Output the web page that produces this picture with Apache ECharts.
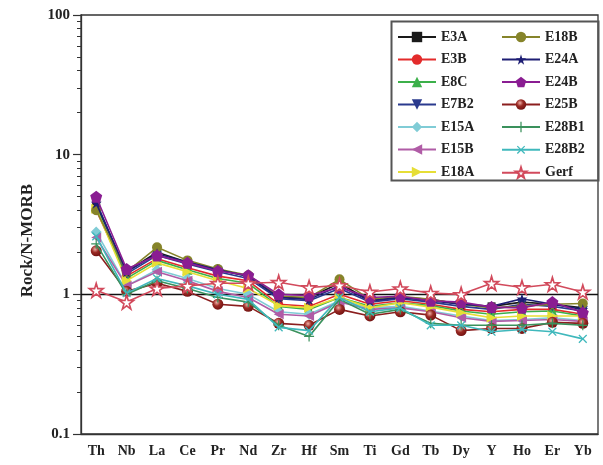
<!DOCTYPE html>
<html>
<head>
<meta charset="utf-8">
<script src="https://cdn.jsdelivr.net/npm/echarts@6/dist/echarts.min.js"></script>
<style>html,body{margin:0;padding:0;background:#fff}#c{width:603px;height:465px}</style>
</head>
<body>
<div id="c"></div>
<script>
const categories = ['Th','Nb','La','Ce','Pr','Nd','Zr','Hf','Sm','Ti','Gd','Tb','Dy','Y','Ho','Er','Yb'];
const yTicks = [0.1, 1, 10, 100];
const minorTicks = [0.2,0.3,0.4,0.5,0.6,0.7,0.8,0.9,2,3,4,5,6,7,8,9,20,30,40,50,60,70,80,90];

const E3A  = [4.4, 1.45, 2.0, 1.7, 1.5, 1.35, 0.95, 0.95, 1.2, 0.9, 0.95, 0.92, 0.85, 0.82, 0.88, 0.85, 0.8];
const E3B  = [4.0, 1.35, 1.8, 1.55, 1.35, 1.25, 0.85, 0.82, 1.0, 0.85, 0.9, 0.85, 0.78, 0.75, 0.78, 0.78, 0.72];
const E8C  = [4.2, 1.3, 1.75, 1.5, 1.3, 1.2, 0.82, 0.78, 0.95, 0.82, 0.87, 0.83, 0.76, 0.72, 0.75, 0.76, 0.7];
const E7B2 = [4.6, 1.4, 1.9, 1.65, 1.45, 1.3, 0.93, 0.9, 1.1, 0.88, 0.93, 0.88, 0.82, 0.78, 0.85, 0.82, 0.76];
const E15A = [2.8, 1.15, 1.5, 1.3, 1.1, 1.0, 0.75, 0.72, 0.9, 0.8, 0.82, 0.76, 0.7, 0.65, 0.66, 0.68, 0.65];
const E15B = [2.55, 1.15, 1.45, 1.25, 1.05, 0.95, 0.72, 0.7, 0.88, 0.78, 0.8, 0.75, 0.68, 0.64, 0.65, 0.66, 0.64];
const E18A = [4.1, 1.25, 1.68, 1.45, 1.25, 1.1, 0.83, 0.8, 0.95, 0.8, 0.87, 0.81, 0.74, 0.68, 0.7, 0.7, 0.7];
const E18B = [4.0, 1.45, 2.17, 1.75, 1.52, 1.37, 0.97, 0.95, 1.28, 0.92, 0.97, 0.92, 0.85, 0.8, 0.82, 0.85, 0.86];
const E24A = [4.5, 1.45, 1.95, 1.7, 1.5, 1.35, 0.95, 0.92, 1.15, 0.9, 0.95, 0.9, 0.85, 0.82, 0.93, 0.85, 0.78];
const E24B = [5.0, 1.52, 1.9, 1.68, 1.47, 1.37, 1.0, 0.98, 1.12, 0.95, 0.97, 0.9, 0.88, 0.81, 0.8, 0.88, 0.74];
const E25B = [2.05, 1.05, 1.2, 1.05, 0.85, 0.82, 0.62, 0.6, 0.78, 0.7, 0.75, 0.71, 0.55, 0.57, 0.57, 0.63, 0.62];
const E28B1 = [2.3, 1.0, 1.25, 1.1, 0.95, 0.88, 0.6, 0.5, 0.92, 0.72, 0.78, 0.62, 0.6, 0.6, 0.6, 0.62, 0.6];
const E28B2 = [2.6, 1.02, 1.3, 1.15, 1.0, 0.92, 0.58, 0.55, 0.95, 0.75, 0.8, 0.6, 0.6, 0.54, 0.56, 0.54, 0.48];
const Gerf = [1.07, 0.88, 1.1, 1.15, 1.2, 1.2, 1.22, 1.12, 1.16, 1.04, 1.1, 1.02, 1.0, 1.2, 1.12, 1.18, 1.04];

const STAR = 'path://M50,0 L61,35 L98,35 L68,57 L79,91 L50,70 L21,91 L32,57 L2,35 L39,35 Z';
const PENT = 'path://M50,0 L98,36 L80,95 L20,95 L2,36 Z';
const PLUS = 'path://M44,0 H56 V44 H100 V56 H56 V100 H44 V56 H0 V44 H44 Z';

const defs = [
  {name:'E3A', data:E3A, color:'#1a1a1a', symbol:'rect', size:8},
  {name:'E3B', data:E3B, color:'#e32b2b', symbol:'circle', size:9},
  {name:'E8C', data:E8C, color:'#3cb04a', symbol:'triangle', size:10},
  {name:'E7B2', data:E7B2, color:'#2a3a8e', symbol:'triangle', size:10, rotate:180},
  {name:'E15A', data:E15A, color:'#80ccd6', symbol:'diamond', size:11},
  {name:'E15B', data:E15B, color:'#b05ca6', symbol:'triangle', size:10, rotate:90},
  {name:'E18A', data:E18A, color:'#e6de36', symbol:'triangle', size:10, rotate:-90},
  {name:'E18B', data:E18B, color:'#86842a', symbol:'circle', size:10},
  {name:'E24A', data:E24A, color:'#1e1e74', symbol:STAR, size:11},
  {name:'E24B', data:E24B, color:'#8a1d92', symbol:PENT, size:12},
  {name:'E25B', data:E25B, color:'#8b1e1e', symbol:'circle', size:11, grad:true},
  {name:'E28B1', data:E28B1, color:'#3a915c', symbol:PLUS, size:10},
  {name:'E28B2', data:E28B2, color:'#3fb8bc', symbol:PLUS, size:11, rotate:45},
  {name:'Gerf', data:Gerf, color:'#d24a5c', symbol:STAR, size:14, hollow:true}
];

const series = defs.map((d, i) => {
  const s = {
    name: d.name,
    type: 'line',
    data: d.data,
    symbol: d.symbol,
    symbolSize: d.size,
    symbolRotate: d.rotate || 0,
    showAllSymbol: true,
    lineStyle: {color: d.color, width: 1.6},
    itemStyle: {color: d.color},
    z: 2 + i
  };
  if (d.grad) {
    s.itemStyle = {color: {type:'radial', x:0.4, y:0.35, r:0.7, colorStops:[{offset:0,color:'#f0b0a8'},{offset:0.45,color:'#9a2a24'},{offset:1,color:'#6e1010'}]}};
  }
  if (d.hollow) {
    s.itemStyle = {color:'#ffffff', borderColor:d.color, borderWidth:1.6};
  }
  if (i === 0) {
    s.markLine = {silent:true, symbol:'none', label:{show:false}, lineStyle:{color:'#111', width:1.3, type:'solid'}, data:[{yAxis:1}], z:1};
  }
  return s;
});

const legendText = {fontFamily:'Liberation Serif, Times New Roman, serif', fontWeight:'bold', fontSize:14, color:'#222'};
const names = defs.map(d => d.name);

const chart = echarts.init(document.getElementById('c'), null, {renderer:'canvas'});
chart.setOption({
  backgroundColor:'#fff',
  animation:false,
  grid:{left:81, right:5, top:15, bottom:31, show:true, borderColor:'#333', borderWidth:1.3, backgroundColor:'transparent'},
  xAxis:{
    type:'category', data:categories, boundaryGap:true,
    axisLine:{lineStyle:{color:'#333', width:1.3}},
    axisTick:{alignWithLabel:true, length:5, lineStyle:{color:'#333', width:1.2}},
    axisLabel:{margin:10, fontFamily:'Liberation Serif, Times New Roman, serif', fontWeight:'bold', fontSize:14, color:'#222', interval:0},
    splitLine:{show:false}
  },
  yAxis:[{
    type:'log', min:0.1, max:100, logBase:10,
    name:'Rock/N-MORB', nameLocation:'middle', nameGap:42, nameRotate:90,
    nameTextStyle:{fontFamily:'Liberation Serif, Times New Roman, serif', fontWeight:'bold', fontSize:17, color:'#222', padding:[0,32,0,0]},
    axisLine:{show:true, lineStyle:{color:'#333', width:1.3}},
    axisTick:{show:true, length:8, customValues:yTicks, lineStyle:{color:'#333', width:1.2}},
    axisLabel:{margin:11, customValues:yTicks, fontFamily:'Liberation Serif, Times New Roman, serif', fontWeight:'bold', fontSize:15, color:'#222',
      formatter: v => String(v)},
    splitLine:{show:false}
  },{
    type:'log', min:0.1, max:100, logBase:10, position:'left',
    axisLine:{show:false},
    axisTick:{show:true, length:4, customValues:minorTicks, lineStyle:{color:'#333', width:1}},
    axisLabel:{show:false},
    splitLine:{show:false}
  }],
  legend:[{
    data:names.slice(0,7), orient:'vertical', left:392, top:25, itemWidth:38, itemHeight:13, itemGap:8.5,
    textStyle:legendText
  },{
    data:names.slice(7), orient:'vertical', left:496, top:25, itemWidth:38, itemHeight:13, itemGap:8.5,
    textStyle:legendText
  }],
  graphic:[{type:'rect', left:389, top:19, shape:{width:207, height:159}, style:{fill:'none', stroke:'#555', lineWidth:2}, z:100, silent:true}],
  series: series
});
</script>
</body>
</html>
